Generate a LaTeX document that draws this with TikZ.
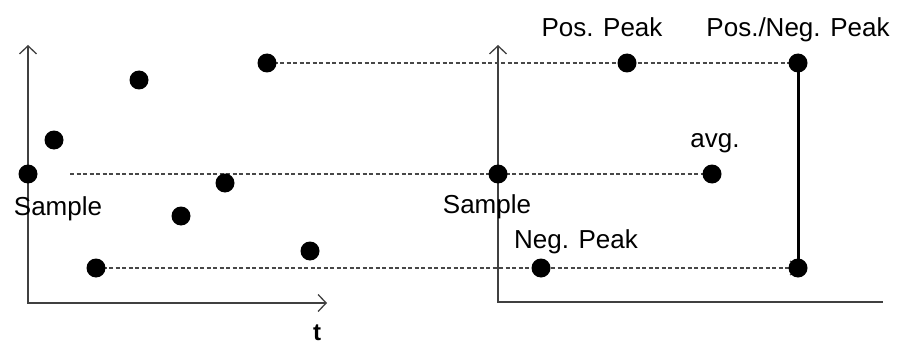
\documentclass[tikz,border=0pt]{standalone}
\usepackage{fontspec}
\setmainfont{Liberation Sans}
\usetikzlibrary{arrows.meta,backgrounds}
\begin{document}
\begin{tikzpicture}[x=1pt,y=-1pt,
  >={Straight Barb[length=8pt,width=17pt,line width=1.3pt]},
  dot/.style={circle,fill=black,inner sep=0pt,minimum size=19pt},
  axisline/.style={line width=1.5pt,draw=black!75},
  guide/.style={dash pattern=on 4pt off 2.5pt,line width=1.4pt,draw=black!72},
  peakline/.style={line width=3pt,draw=black},
  lbl/.style={font=\fontsize{26}{30}\selectfont,inner sep=0pt,anchor=base}]
\useasboundingbox (0,0) rectangle (908,345);
% axis coordinates
\coordinate (ltop) at (28,45);
\coordinate (lorig) at (28,303);
\coordinate (lend) at (327,303);
\coordinate (rtop) at (498,45);
\coordinate (rorig) at (498,302);
\coordinate (rend) at (883,302);
\coordinate (mstart) at (70,174);
% dots
\node[dot] (s1) at (28,174) {};
\node[dot] (d2) at (54,140) {};
\node[dot] (d3) at (139,80) {};
\node[dot] (d4) at (267,63) {};
\node[dot] (d5) at (225,183) {};
\node[dot] (d6) at (181,216) {};
\node[dot] (d7) at (310,251) {};
\node[dot] (d8) at (96,268) {};
\node[dot] (s2) at (498,174) {};
\node[dot] (pp) at (627,63) {};
\node[dot] (pn) at (798,63) {};
\node[dot] (av) at (712,174) {};
\node[dot] (np) at (541,268) {};
\node[dot] (pn2) at (798,268) {};
\begin{scope}[on background layer]
  \draw[axisline,<->] (ltop) -- (lorig) -- (lend);
  \draw[axisline,<-] (rtop) -- (rorig) -- (rend);
  \draw[guide] (d4.center) -- (pn.center);
  \draw[guide] (mstart) -- (av.center);
  \draw[guide,-{Straight Barb[length=7pt,width=14pt,line width=1.2pt]}] (d8.center) -- (pn2.center);
  \draw[peakline] (pn.center) -- (pn2.center);
\end{scope}
% labels
\node[lbl] (lpp) at (602,37) {Pos. Peak};
\node[lbl] (lpn) at (798,37) {Pos./Neg. Peak};
\node[lbl] (lav) at (715,147) {avg.};
\node[lbl] (ls1) at (58,215) {Sample};
\node[lbl] (ls2) at (487,213) {Sample};
\node[lbl] (lnp) at (576,248) {Neg. Peak};
\node[lbl,font=\bfseries\fontsize{24}{28}\selectfont] (lt) at (317,340) {t};
\end{tikzpicture}
\end{document}
